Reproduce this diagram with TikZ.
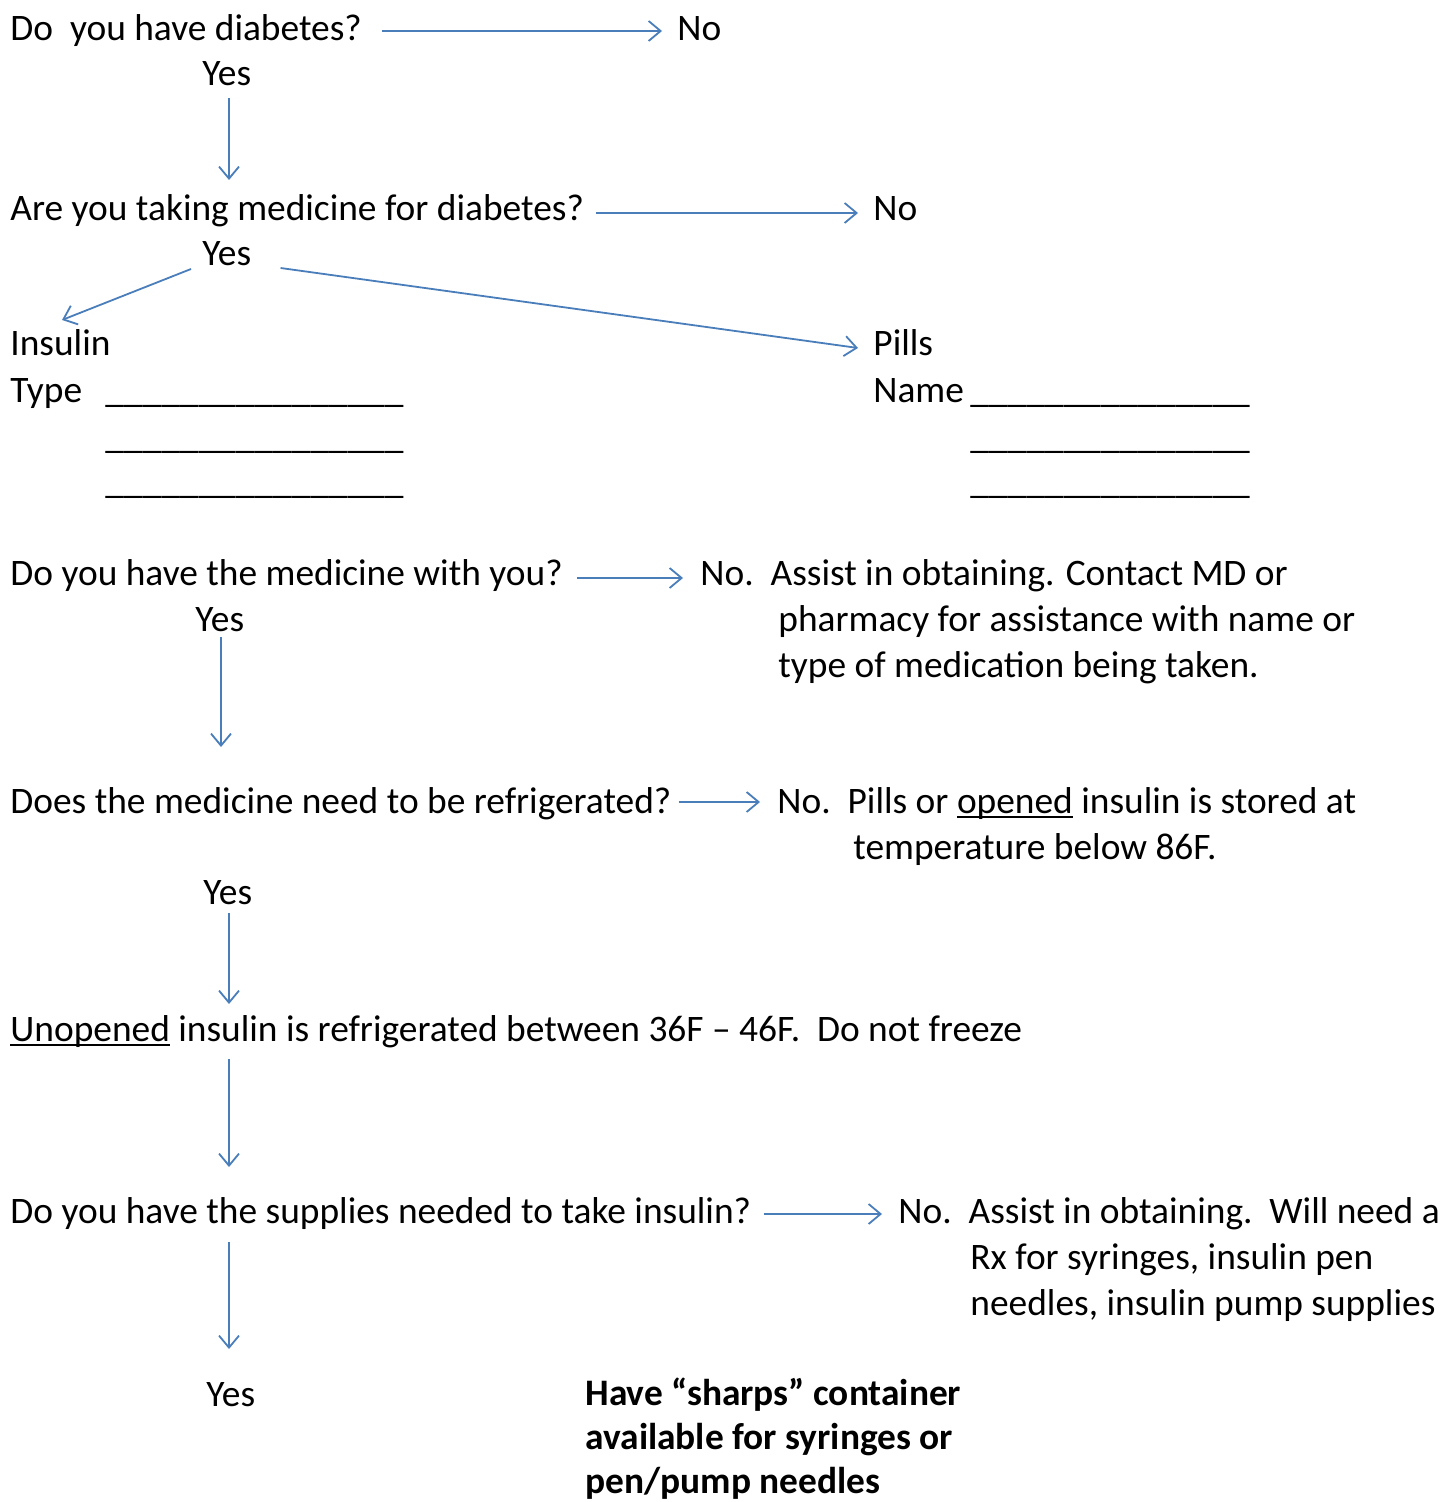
\documentclass[tikz,border=0pt]{standalone}
\usepackage{fontspec}
\setmainfont{Carlito}
\usetikzlibrary{arrows.meta}
\definecolor{arrowblue}{HTML}{4A7EBB}
\newcommand\myul[1]{\setbox0\hbox{#1}\rlap{\rule[-2.6pt]{\wd0}{1.2pt}}#1}
\tikzset{
  txt/.style={inner sep=0pt, anchor=base west, font=\fontsize{18.7pt}{22pt}\selectfont},
  btxt/.style={txt, font=\fontsize{18.7pt}{22pt}\selectfont\bfseries},
  arr/.style={draw=arrowblue, line width=0.9pt, -{Straight Barb[length=6pt,width=10pt,line width=0.9pt]}}
}
\begin{document}
\begin{tikzpicture}[x=0.5pt,y=-0.5pt]
\useasboundingbox (0,0) rectangle (1444,1502);
% texts
\begin{scope}[yshift=-1pt]
\node[txt] (q1) at (10,39) {Do\ \ you have diabetes?};
\node[txt] (no1) at (677,39) {No};
\node[txt] (yes1) at (202,84) {Yes};
\node[txt] (q2) at (10,219) {Are you taking medicine for diabetes?};
\node[txt] (no2) at (873,219) {No};
\node[txt] (yes2) at (202,264) {Yes};
\node[txt] (ins) at (10,354) {Insulin};
\node[txt] (typ) at (10,401) {Type};
\node[txt] (bl1) at (105,401) {\_\_\_\_\_\_\_\_\_\_\_\_\_\_\_\_};
\node[txt] (bl2) at (105,446) {\_\_\_\_\_\_\_\_\_\_\_\_\_\_\_\_};
\node[txt] (bl3) at (105,491) {\_\_\_\_\_\_\_\_\_\_\_\_\_\_\_\_};
\node[txt] (pills) at (873,354) {Pills};
\node[txt] (name) at (873,401) {Name};
\node[txt] (br1) at (970,401) {\_\_\_\_\_\_\_\_\_\_\_\_\_\_\_};
\node[txt] (br2) at (970,446) {\_\_\_\_\_\_\_\_\_\_\_\_\_\_\_};
\node[txt] (br3) at (970,491) {\_\_\_\_\_\_\_\_\_\_\_\_\_\_\_};
\node[txt] (q3) at (10,583) {Do you have the medicine with you?};
\node[txt] (no3a) at (700,583) {No.\ \ Assist in obtaining. Contact MD or};
\node[txt] (no3b) at (778,629) {pharmacy for assistance with name or};
\node[txt] (no3c) at (778,675) {type of medication being taken.};
\node[txt] (yes3) at (195,629) {Yes};
\node[txt] (q4) at (10,811) {Does the medicine need to be refrigerated?};
\node[txt] (no4a) at (777,811) {No.\ \ Pills or \myul{opened} insulin is stored at};
\node[txt] (no4b) at (853,857) {temperature below 86F.};
\node[txt] (yes4) at (203,902) {Yes};
\node[txt] (unop) at (10,1039) {\myul{Unopened} insulin is refrigerated between 36F – 46F.\ \ Do not freeze};
\node[txt] (q5) at (10,1221) {Do you have the supplies needed to take insulin?};
\node[txt] (no5a) at (898,1221) {No.\ \ Assist in obtaining.\ \ Will need a};
\node[txt] (no5b) at (970,1267) {Rx for syringes, insulin pen};
\node[txt] (no5c) at (970,1313) {needles, insulin pump supplies};
\node[txt] (yes5) at (206,1404) {Yes};
\node[btxt] (sh1) at (585,1403) {Have “sharps” container};
\node[btxt] (sh2) at (585,1447) {available for syringes or};
\node[btxt] (sh3) at (585,1491) {pen/pump needles};
\end{scope}
% horizontal arrows
\draw[arr] ([shift={(10pt,5pt)}]q1.base east) -- ([shift={(-7.5pt,5pt)}]no1.base west);
\draw[arr] ([shift={(6pt,4pt)}]q2.base east) -- ([shift={(-7.5pt,4pt)}]no2.base west);
\draw[arr] ([shift={(7pt,3.5pt)}]q3.base east) -- ([shift={(-8.5pt,3.5pt)}]no3a.base west);
\draw[arr] ([shift={(3.5pt,5.5pt)}]q4.base east) -- ([shift={(-8.5pt,5.5pt)}]no4a.base west);
\draw[arr] ([shift={(6pt,4.5pt)}]q5.base east) -- ([shift={(-8pt,4.5pt)}]no5a.base west);
% diagonal arrows
\draw[arr] ([shift={(-5.5pt,-1.5pt)}]yes2.base west) -- ([shift={(26pt,18pt)}]ins.base west);
\draw[arr] ([shift={(14.5pt,-1pt)}]yes2.base east) -- ([shift={(-7.5pt,4pt)}]pills.base west);
% vertical arrows
\draw[arr, shorten >=20.5pt] ([shift={(13.5pt,-6pt)}]yes1.base west) coordinate (s1) -- (s1 |- q2.base);
\draw[arr, shorten >=33pt] ([shift={(13pt,-3pt)}]yes3.base west) coordinate (s2) -- (s2 |- q4.base);
\draw[arr, shorten >=18.5pt] ([shift={(13pt,-4.5pt)}]yes4.base west) coordinate (s3) -- (s3 |- unop.base);
\draw[arr, shorten >=28pt] ([shift={(109.5pt,-9pt)}]unop.base west) coordinate (s4) -- (s4 |- q5.base);
\draw[arr, shorten >=28.5pt] ([shift={(109.5pt,-9.5pt)}]q5.base west) coordinate (s5) -- (s5 |- yes5.base);
\end{tikzpicture}
\end{document}
